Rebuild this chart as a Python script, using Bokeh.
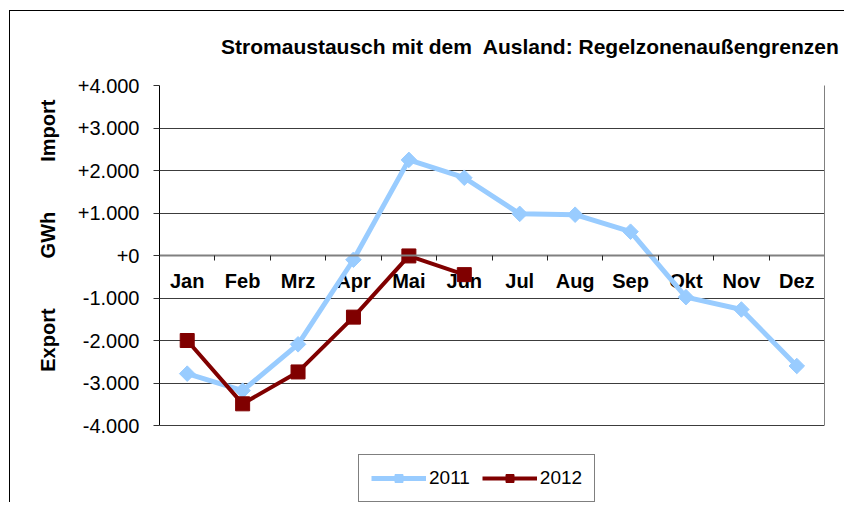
import math
from bokeh.plotting import figure
from bokeh.models import Range1d, FixedTicker, Legend, LegendItem, LinearAxis
from bokeh.core.properties import value
from bokeh.embed import file_html
from bokeh.resources import INLINE

# ---- data ----
months = ["Jan", "Feb", "Mrz", "Apr", "Mai", "Jun", "Jul", "Aug", "Sep", "Okt", "Nov", "Dez"]
values_2011 = [-2780, -3180, -2090, -100, 2250, 1830, 980, 960, 560, -980, -1270, -2600]
values_2012 = [-2000, -3490, -2740, -1450, -10, -450]
y_ticks = [-4000, -3000, -2000, -1000, 0, 1000, 2000, 3000, 4000]
y_tick_labels = ["-4.000", "-3.000", "-2.000", "-1.000", "+0", "+1.000", "+2.000", "+3.000", "+4.000"]
series_names = ["2011", "2012"]
title_text = "Stromaustausch mit dem  Ausland: Regelzonenaußengrenzen"
axis_words = ["Export", "GWh", "Import"]   # bottom to top

FONT = "Liberation Sans"
C2011 = "#99CCFF"
C2012 = "#800000"
NB = "\u00a0"

# layout (pixels)
FRAME_W, FRAME_H = 665, 417
GRID_H = 340                      # pixel height of the -4000..+4000 band
px_per_unit = GRID_H / (y_ticks[-1] - y_ticks[0])
y_bottom = y_ticks[0] - (FRAME_H - GRID_H) / px_per_unit

xs = [i + 0.5 for i in range(len(months))]

p = figure(frame_width=FRAME_W, frame_height=FRAME_H,
           x_range=Range1d(0, len(months)), y_range=Range1d(y_bottom, y_ticks[-1]),
           output_backend="svg", toolbar_location=None,
           min_border_left=159, min_border_right=20, min_border_top=85, min_border_bottom=0)
p.styles = {
    "background-image": "linear-gradient(#000,#000), linear-gradient(#000,#000)",
    "background-size": "1px 100%, 100% 1px",
    "background-position": "9px 10px, 9px 10px",
    "background-repeat": "no-repeat",
}
p.border_fill_color = None
p.background_fill_color = "white"
p.outline_line_color = None

# title
p.title.text = title_text.replace("  ", NB + " ")
p.title.text_font = FONT
p.title.text_font_style = "bold"
p.title.text_font_size = "21px"
p.title.text_color = "black"
p.title.align = "right"
p.title.offset = -15
p.title.standoff = 56

# grid
p.xgrid.visible = False
p.ygrid.ticker = FixedTicker(ticks=y_ticks)
p.ygrid.grid_line_color = "#3c3c3c"
p.ygrid.grid_line_width = 1

# y axis
p.yaxis.ticker = FixedTicker(ticks=y_ticks)
p.yaxis.bounds = (y_ticks[0], y_ticks[-1])
p.yaxis.major_label_overrides = dict(zip(y_ticks, y_tick_labels))
p.yaxis.minor_tick_line_color = None
p.yaxis.major_tick_out = 6
p.yaxis.major_tick_in = 0
p.yaxis.axis_line_color = "black"
p.yaxis.major_tick_line_color = "#333333"
p.yaxis.major_label_standoff = 14
p.yaxis.major_label_text_font = FONT
p.yaxis.major_label_text_font_size = "20px"
p.yaxis.major_label_text_color = "black"
gap = NB * 9
p.yaxis.axis_label = NB * 21 + axis_words[0] + gap + axis_words[1] + gap + axis_words[2]
p.yaxis.axis_label_text_font = FONT
p.yaxis.axis_label_text_font_style = "bold"
p.yaxis.axis_label_text_font_size = "20px"
p.yaxis.axis_label_text_color = "black"
p.yaxis.axis_label_standoff = 16

# right border of the plot area
right = LinearAxis(ticker=FixedTicker(ticks=[]), bounds=(y_ticks[0], y_ticks[-1]),
                   axis_line_color="#808080", major_tick_line_color=None,
                   minor_tick_line_color=None, major_label_text_color=None)
p.add_layout(right, "right")

# x axis at zero, ticks between categories
p.xaxis.fixed_location = 0
p.xaxis.ticker = FixedTicker(ticks=list(range(len(months) + 1)))
p.xaxis.major_label_text_color = None
p.xaxis.major_label_text_font_size = "1px"
p.xaxis.major_label_standoff = 0
p.xaxis.minor_tick_line_color = None
p.xaxis.major_tick_out = 5
p.xaxis.major_tick_in = 0
p.xaxis.major_tick_line_color = "#222222"
p.xaxis.axis_line_color = "#808080"
p.xaxis.axis_line_width = 2

# category labels on the zero line
p.text(x=xs, y=[0] * len(months), text=months, text_font=value(FONT),
       text_font_style="bold", text_font_size="20px", text_align="center",
       text_baseline="middle", y_offset=25, text_color="black")

# series
l1 = p.line(xs, values_2011, line_color=C2011, line_width=5)
s1 = p.scatter(xs, values_2011, marker="square", angle=math.pi / 4, size=11,
               fill_color=C2011, line_color=C2011)
l2 = p.line(xs[:len(values_2012)], values_2012, line_color=C2012, line_width=4)
s2 = p.scatter(xs[:len(values_2012)], values_2012, marker="square", size=14,
               fill_color=C2012, line_color=C2012)

legend = Legend(items=[LegendItem(label=series_names[0], renderers=[l1, s1]),
                       LegendItem(label=series_names[1], renderers=[l2, s2])],
                orientation="horizontal", location=(199, 0),
                label_text_font=FONT, label_text_font_size="19px", label_text_color="black",
                glyph_width=55, glyph_height=20, label_height=20, label_standoff=3,
                spacing=12, padding=12, margin=0,
                border_line_color="black", border_line_width=1,
                background_fill_color="white", background_fill_alpha=1)
p.add_layout(legend)

open("out.html", "w").write(file_html(p, INLINE))
